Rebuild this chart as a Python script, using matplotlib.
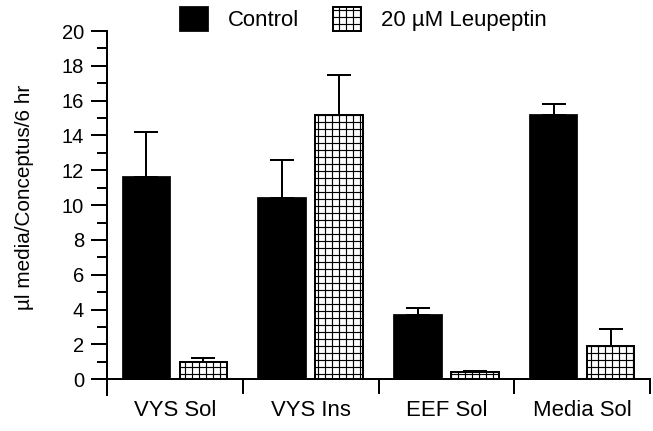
import matplotlib
matplotlib.use("Agg")
import matplotlib.pyplot as plt
import numpy as np

categories = ["VYS Sol", "VYS Ins", "EEF Sol", "Media Sol"]
control = [11.6, 10.4, 3.7, 15.2]
control_err = [2.6, 2.2, 0.4, 0.6]
leup = [1.0, 15.2, 0.4, 1.9]
leup_err = [0.25, 2.3, 0.1, 1.0]
yticks = [0, 2, 4, 6, 8, 10, 12, 14, 16, 18, 20]
labels = ["Control", "20 \u00b5M Leupeptin"]

DPI = 84
W, H = 653, 431
plt.rcParams['font.family'] = ['Liberation Sans', 'DejaVu Sans']
plt.rcParams['hatch.linewidth'] = 1.0
plt.rcParams['hatch.color'] = 'black'

fig = plt.figure(figsize=(W / DPI, H / DPI), dpi=DPI)
ax = fig.add_axes([107 / W, (H - 395) / H, (650 - 107) / W, (395 - 31) / H])

x = np.arange(len(categories)) + 0.5
bw = 0.35
off = 0.21
b1 = ax.bar(x - off, control, bw, color='black', edgecolor='black', linewidth=1.5, label=labels[0], zorder=3)
b2 = ax.bar(x + off, leup, bw, color='white', edgecolor='black', linewidth=1.7, hatch='++', label=labels[1], zorder=3)
ax.errorbar(x - off, control, yerr=[np.zeros(4), control_err], fmt='none', ecolor='black',
            elinewidth=1.7, capsize=10, capthick=1.7, zorder=2)
ax.errorbar(x + off, leup, yerr=[np.zeros(4), leup_err], fmt='none', ecolor='black',
            elinewidth=1.7, capsize=10, capthick=1.7, zorder=2)

ax.set_xlim(0, 4)
ax.set_ylim(-0.9, 20)
ax.spines['top'].set_visible(False)
ax.spines['right'].set_visible(False)
ax.spines['bottom'].set_position(('data', 0))
for s in ['left', 'bottom']:
    ax.spines[s].set_linewidth(1.7)

ax.set_yticks(yticks)
ax.set_yticks(np.arange(1, 20, 2), minor=True)
ax.tick_params(axis='y', which='major', length=13.7, width=1.7, labelsize=17.3, pad=6)
ax.tick_params(axis='y', which='minor', length=8.6, width=1.7)

ax.set_xticks(x)
ax.set_xticklabels(categories)
ax.set_xticks(np.arange(0, 5), minor=True)
ax.tick_params(axis='x', which='major', length=0, labelsize=19, pad=18)
ax.tick_params(axis='x', which='minor', length=12.9, width=1.7, direction='out')

fig.text(25 / W, 1 - 197 / H, "\u00b5l media/Conceptus/6 hr", rotation=90,
         ha='center', va='center', fontsize=17.8)

fig.legend(handles=[b1, b2], labels=labels, loc='upper left',
           bbox_to_anchor=(180 / W, 1 - 7 / H), ncol=2, frameon=False,
           fontsize=19, handlelength=1.26, handleheight=1.26, handletextpad=0.9,
           columnspacing=1.55, borderpad=0, borderaxespad=0)

fig.savefig("out.png", dpi=DPI)
